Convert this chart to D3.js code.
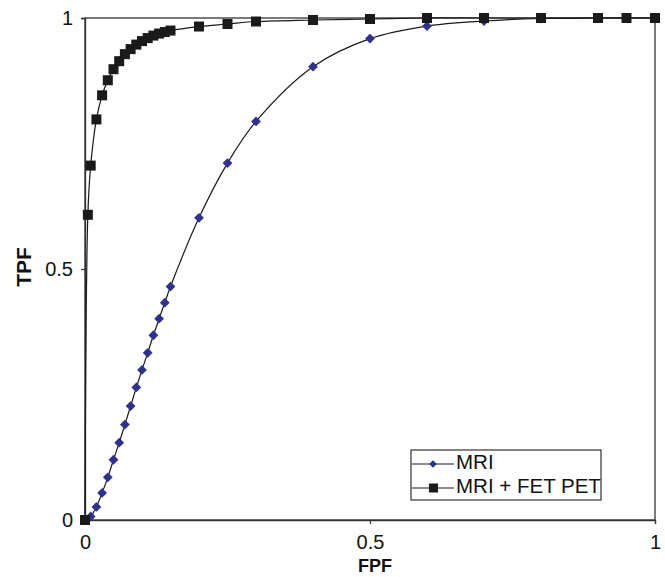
<!DOCTYPE html>
<html>
<head>
<meta charset="utf-8">
<script src="https://cdn.jsdelivr.net/npm/d3@7"></script>
<style>
  body { margin: 0; background: #fff; }
  text { font-family: "Liberation Sans", Arial, sans-serif; fill: #111; }
</style>
</head>
<body>
<div id="chart"></div>
<script>
// data
const mriFpf = [0, 0.01, 0.02, 0.03, 0.04, 0.05, 0.06, 0.07, 0.08, 0.09, 0.10, 0.11, 0.12, 0.13, 0.14, 0.15,
  0.2, 0.25, 0.3, 0.4, 0.5, 0.6, 0.7, 0.8, 0.9, 1];
const mriTpf = [0, 0.007, 0.026, 0.054, 0.085, 0.12, 0.154, 0.19, 0.227, 0.264, 0.299, 0.333, 0.368, 0.401, 0.433, 0.465,
  0.602, 0.711, 0.794, 0.903, 0.959, 0.984, 0.994, 0.999, 1, 1];
const petFpf = [0, 0.005, 0.01, 0.02, 0.03, 0.04, 0.05, 0.06, 0.07, 0.08, 0.09, 0.10, 0.11, 0.12, 0.13, 0.14, 0.15,
  0.2, 0.25, 0.3, 0.4, 0.5, 0.6, 0.7, 0.8, 0.9, 0.95, 1];
const petTpf = [0, 0.608, 0.706, 0.798, 0.846, 0.876, 0.898, 0.914, 0.928, 0.938, 0.947, 0.954, 0.96, 0.965, 0.969, 0.972, 0.975,
  0.983, 0.988, 0.993, 0.996, 0.998, 1, 1, 1, 1, 1, 1];
const seriesNames = ['MRI', 'MRI + FET PET'];
const tickValues = [0, 0.5, 1];

// layout
const width = 665, height = 577;
const plotLeft = 85, plotRight = 655, plotTop = 18, plotBottom = 520;
const lineColor = '#1a1a1a';
const blue = '#2e3192';

const svg = d3.select('#chart').append('svg')
  .attr('width', width)
  .attr('height', height);

const x = d3.scaleLinear().domain([0, 1]).range([plotLeft, plotRight]);
const y = d3.scaleLinear().domain([0, 1]).range([plotBottom, plotTop]);

// frame
svg.append('rect')
  .attr('x', plotLeft).attr('y', plotTop)
  .attr('width', plotRight - plotLeft).attr('height', plotBottom - plotTop)
  .attr('fill', 'none').attr('stroke', '#333').attr('stroke-width', 1.3);

// axes
const fmt = d => d === 0.5 ? '0.5' : String(d);
const yAxis = svg.append('g')
  .attr('transform', `translate(${plotLeft},0)`)
  .call(d3.axisLeft(y).tickValues(tickValues).tickSize(4).tickPadding(8).tickFormat(fmt));
const xAxis = svg.append('g')
  .attr('transform', `translate(0,${plotBottom})`)
  .call(d3.axisBottom(x).tickValues(tickValues).tickSize(4).tickPadding(11).tickFormat(fmt));
[xAxis, yAxis].forEach(a => {
  a.select('.domain').attr('stroke', '#333').attr('stroke-width', 1.3);
  a.selectAll('.tick line').attr('stroke', '#333').attr('stroke-width', 1.2);
  a.selectAll('.tick text')
    .style('font-family', '"Liberation Sans", Arial, sans-serif')
    .style('font-size', '20px').attr('fill', '#111');
});

// axis titles
svg.append('text')
  .attr('x', x(0.5) + 5).attr('y', 572)
  .attr('text-anchor', 'middle')
  .style('font-size', '18px').style('font-weight', 'bold')
  .text('FPF');
svg.append('text')
  .attr('transform', `translate(31,${y(0.5) - 2}) rotate(-90)`)
  .attr('text-anchor', 'middle')
  .style('font-size', '21px').style('font-weight', 'bold')
  .text('TPF');

const line = d3.line()
  .x(d => x(d[0]))
  .y(d => y(d[1]))
  .curve(d3.curveCatmullRom.alpha(0.5));

const mriPts = mriFpf.map((v, i) => [v, mriTpf[i]]);
const petPts = petFpf.map((v, i) => [v, petTpf[i]]);

svg.append('path').datum(mriPts)
  .attr('d', line).attr('fill', 'none')
  .attr('stroke', lineColor).attr('stroke-width', 1.2);
svg.append('path').datum(petPts)
  .attr('d', line).attr('fill', 'none')
  .attr('stroke', lineColor).attr('stroke-width', 1.2);

const diamond = d3.symbol().type(d3.symbolSquare).size(48);
svg.append('g').selectAll('path')
  .data(mriPts).join('path')
  .attr('d', diamond)
  .attr('transform', d => `translate(${x(d[0])},${y(d[1])}) rotate(45)`)
  .attr('fill', blue);

const sq = 10;
svg.append('g').selectAll('rect')
  .data(petPts).join('rect')
  .attr('x', d => x(d[0]) - sq / 2)
  .attr('y', d => y(d[1]) - sq / 2)
  .attr('width', sq).attr('height', sq)
  .attr('fill', lineColor);

// legend
const lg = svg.append('g').attr('transform', 'translate(411,450)');
lg.append('rect')
  .attr('width', 190).attr('height', 50)
  .attr('fill', '#fff').attr('stroke', '#333').attr('stroke-width', 1.2);
seriesNames.forEach((name, i) => {
  const cy = 14 + i * 24;
  lg.append('line')
    .attr('x1', 1).attr('x2', 43).attr('y1', cy).attr('y2', cy)
    .attr('stroke', lineColor).attr('stroke-width', 1.2);
  if (i === 0) {
    lg.append('path')
      .attr('d', d3.symbol().type(d3.symbolSquare).size(30))
      .attr('transform', `translate(22,${cy}) rotate(45)`)
      .attr('fill', blue);
  } else {
    lg.append('rect')
      .attr('x', 18).attr('y', cy - 4.5).attr('width', 9).attr('height', 9)
      .attr('fill', lineColor);
  }
  lg.append('text')
    .attr('x', 45).attr('y', cy + 5)
    .style('font-size', '20.5px')
    .text(name);
});
</script>
</body>
</html>
